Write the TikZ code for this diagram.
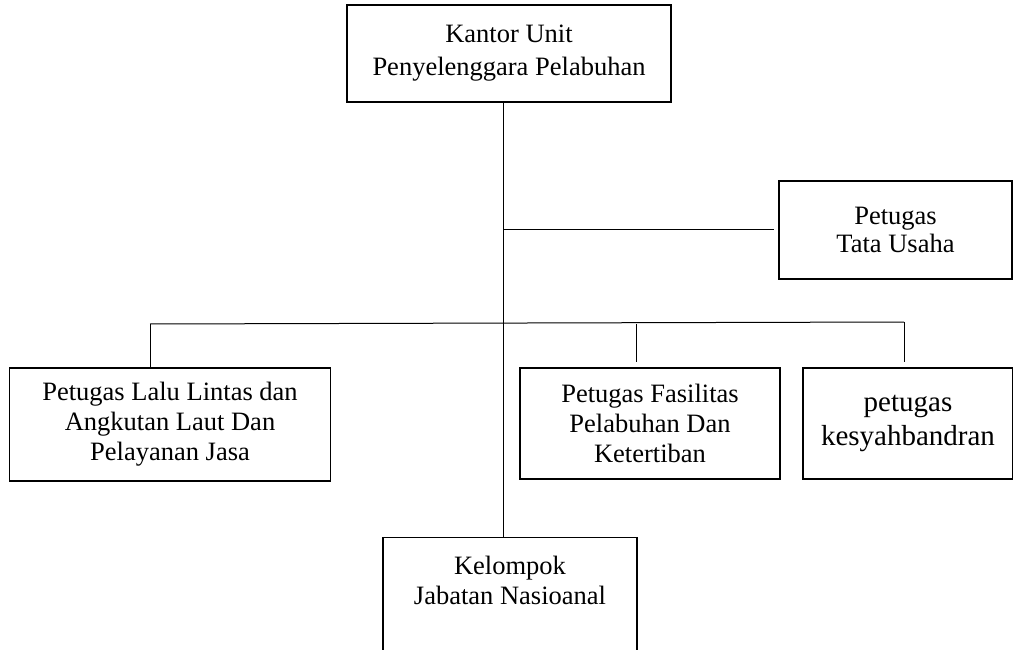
\documentclass[tikz,border=0pt]{standalone}
\usepackage{fontspec}
\setmainfont{Liberation Serif}
\usepackage{xcolor}

\tikzset{
  unitbox/.style={draw, line width=1.1pt, align=center, inner sep=0pt,
    font=\fontsize{26.5}{30}\selectfont},
  link/.style={line width=1pt}
}

\begin{document}
\begin{tikzpicture}[x=1pt, y=-1pt]
\useasboundingbox (0,0) rectangle (1013,650);
\clip (0,0) rectangle (1013,650);
\node[unitbox, minimum width=324, minimum height=97,
  font=\fontsize{26.5}{33}\selectfont] (kantor) at (509,53.5)
  {Kantor Unit\\Penyelenggara Pelabuhan};
\node[unitbox, minimum width=233, minimum height=98,
  font=\fontsize{26.5}{28}\selectfont] (tatausaha) at (895.5,230)
  {Petugas\\Tata Usaha};
\node[unitbox, minimum width=321, minimum height=113] (lalulintas) at (170,424.5)
  {Petugas Lalu Lintas dan\\Angkutan Laut Dan\\Pelayanan Jasa};
\node[unitbox, minimum width=260, minimum height=111] (fasilitas) at (650,423.5)
  {Petugas Fasilitas\\Pelabuhan Dan\\Ketertiban};
\node[unitbox, minimum width=210, minimum height=111,
  font=\fontsize{29}{34}\selectfont] (syahbandar) at (908,423.5)
  {petugas\\kesyahbandran};
\node[unitbox, anchor=north, minimum width=254, inner ysep=19pt,
  text depth=120pt] (kelompok) at (510,537)
  {Kelompok\\Jabatan Nasioanal};
% garis penghubung
\coordinate (trunk) at (503,0);
\coordinate (busL) at (150,324);
\coordinate (busR) at (904,322);
\coordinate (dropF) at (636,324);
\draw[link] (kantor.south -| trunk) -- (kelompok.north -| trunk);
\draw[link] (trunk |- tatausaha.west) -- ([xshift=-4pt]tatausaha.west);
\draw[link] (busL) -- (busR);
\draw[link] (busL) -- (busL |- lalulintas.north);
\draw[link, shorten >=5pt] (dropF) -- (dropF |- fasilitas.north);
\draw[link, shorten >=5pt] (busR) -- (busR |- syahbandar.north);
\end{tikzpicture}
\end{document}
